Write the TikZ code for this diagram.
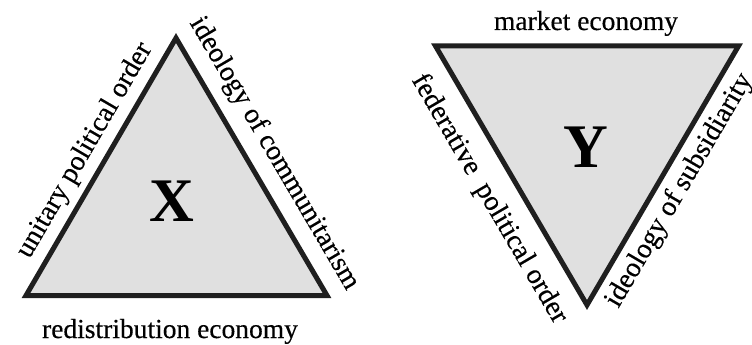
\documentclass[tikz,border=0pt]{standalone}
\usepackage{fontspec}
\setmainfont{Liberation Serif}
\newfontfamily\lblfont[FakeBold=0.4]{Liberation Serif}
\begin{document}
\begin{tikzpicture}[x=1pt,y=-1pt,
  tri/.style={draw=black!88,fill=black!12,line width=5pt,line join=miter},
  lbl/.style={font=\lblfont\fontsize{28}{30}\selectfont,inner sep=0pt},
  hlbl/.style={font=\lblfont\fontsize{27.5}{30}\selectfont,inner sep=0pt},
  big/.style={font=\fontsize{62}{64}\selectfont\bfseries,inner sep=0pt}]
\useasboundingbox (0,0) rectangle (752,345);
% triangle X
\coordinate (A1) at (176,38);
\coordinate (B1) at (26,295.5);
\coordinate (C1) at (327,295.5);
\draw[tri] (A1) -- (B1) -- (C1) -- cycle;
\path (B1) -- (A1) node[lbl,pos=0.52,sloped,above=9pt] (upo) {unitary political order};
\path (A1) -- (C1) node[lbl,pos=0.5,sloped,above=13pt] (ioc) {ideology of communitarism};
\node[hlbl,anchor=base] (re) at (170,338) {redistribution economy};
\node[big] (X) at (172,201) {X};
% triangle Y
\coordinate (P) at (435.5,46);
\coordinate (Q) at (738.5,46);
\coordinate (R) at (587,305);
\draw[tri] (P) -- (Q) -- (R) -- cycle;
\node[hlbl,anchor=base] (me) at (586,30) {market economy};
\path (P) -- (R) node[lbl,pos=0.53,sloped,below=18pt] (fpo) {federative\hspace{0.25em} political order};
\path (R) -- (Q) node[lbl,pos=0.485,sloped,below=9pt] (ios) {ideology of subsidiarity};
\node[big] (Y) at (586,147) {Y};
\end{tikzpicture}
\end{document}
